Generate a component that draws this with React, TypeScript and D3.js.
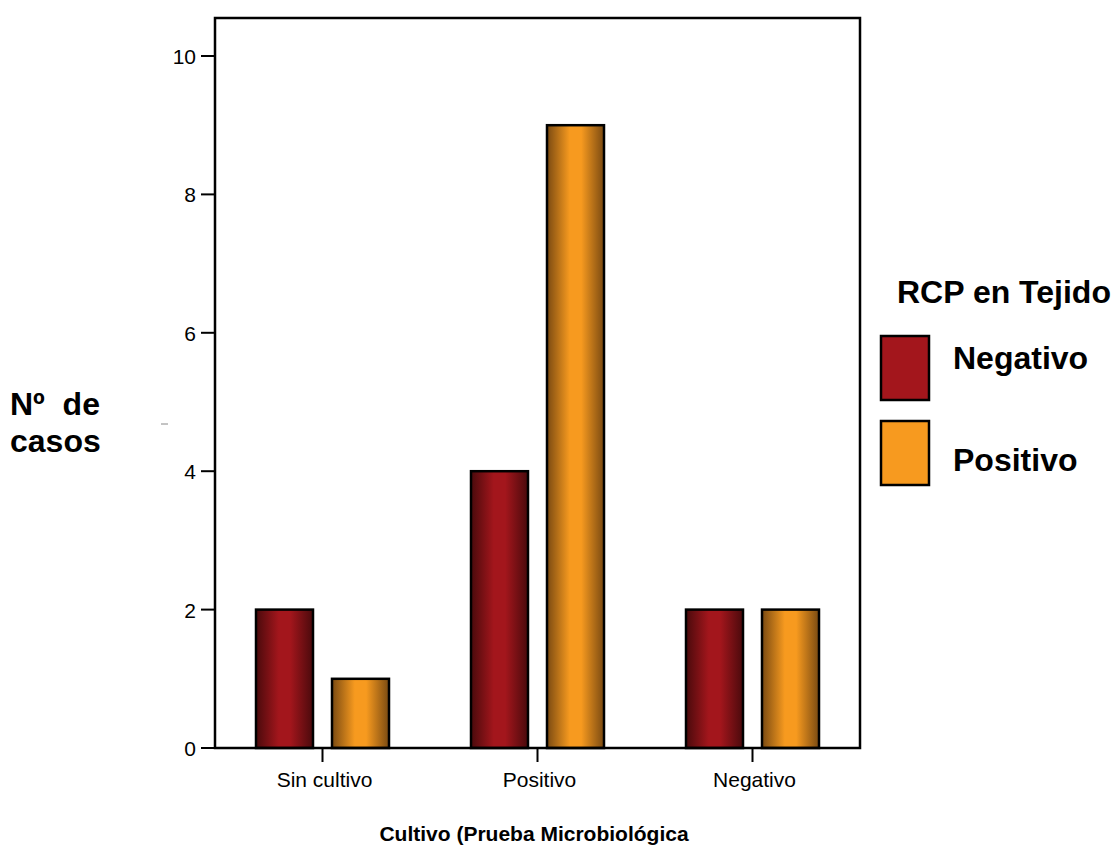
import React from "react";
import * as d3 from "d3";

const categories = ["Sin cultivo", "Positivo", "Negativo"];
const seriesNames = ["Negativo", "Positivo"];
const negativoValues = [2, 4, 2];
const positivoValues = [1, 9, 2];
const yTicks = [0, 2, 4, 6, 8, 10];

const W = 1115;
const H = 846;
const plot = { left: 215, right: 860, top: 18, bottom: 748 };
const font = "'Liberation Sans', Arial, sans-serif";

const palette = [
  { edge: "#4a0a0c", mid: "#a3161c", flat: "#a3161c" },
  { edge: "#7a4a12", mid: "#f79a1f", flat: "#f79a1f" },
];

export default function App() {
  const x = d3.scaleBand<string>().domain(categories).range([plot.left, plot.right]).padding(0);
  const y = d3.scaleLinear().domain([0, 10]).range([plot.bottom, 56]);
  const barW = 57;
  const gap = 19;
  const series = [negativoValues, positivoValues];

  return (
    <svg width={W} height={H} style={{ display: "block", position: "absolute", left: 0, top: 0 }}>
      <defs>
        {palette.map((p, i) => (
          <linearGradient key={i} id={`grad${i}`} x1="0" x2="1" y1="0" y2="0">
            <stop offset="0%" stopColor={p.edge} />
            <stop offset="40%" stopColor={p.mid} />
            <stop offset="60%" stopColor={p.mid} />
            <stop offset="100%" stopColor={p.edge} />
          </linearGradient>
        ))}
      </defs>
      <rect width={W} height={H} fill="#fff" />

      {/* bars */}
      {categories.map((c, ci) => {
        const cx = (x(c) ?? 0) + x.bandwidth() / 2;
        return series.map((vals, si) => {
          const x0 = si === 0 ? cx - gap / 2 - barW : cx + gap / 2;
          return (
            <rect
              key={`${c}-${si}`}
              x={x0}
              y={y(vals[ci])}
              width={barW}
              height={y(0) - y(vals[ci])}
              fill={`url(#grad${si})`}
              stroke="#000"
              strokeWidth={2.5}
            />
          );
        });
      })}

      {/* plot frame */}
      <rect
        x={plot.left}
        y={plot.top}
        width={plot.right - plot.left}
        height={plot.bottom - plot.top}
        fill="none"
        stroke="#000"
        strokeWidth={2.5}
      />

      {/* y axis ticks */}
      {yTicks.map((t) => (
        <g key={t}>
          <line x1={plot.left - 14} x2={plot.left} y1={y(t)} y2={y(t)} stroke="#000" strokeWidth={2} />
          <text x={196} y={y(t) + 8} textAnchor="end" fontFamily={font} fontSize={21} fill="#000">
            {t}
          </text>
        </g>
      ))}

      {/* x axis ticks */}
      {categories.map((c) => {
        const cx = (x(c) ?? 0) + x.bandwidth() / 2;
        return (
          <g key={c}>
            <line x1={cx} x2={cx} y1={plot.bottom} y2={plot.bottom + 14} stroke="#000" strokeWidth={2} />
            <text x={cx + 2} y={plot.bottom + 39} textAnchor="middle" fontFamily={font} fontSize={21} fill="#000">
              {c}
            </text>
          </g>
        );
      })}

      {/* axis titles */}
      <text x={10} y={415} fontFamily={font} fontSize={32} fontWeight="bold" fill="#000">
        {"Nº\u00a0\u00a0de"}
      </text>
      <text x={10} y={452} fontFamily={font} fontSize={32} fontWeight="bold" fill="#000">
        casos
      </text>
      <line x1={161} x2={168} y1={424} y2={424} stroke="#888" strokeWidth={1} />
      <text x={534} y={841} textAnchor="middle" fontFamily={font} fontSize={21} fontWeight="bold" fill="#000">
        Cultivo (Prueba Microbiológica
      </text>

      {/* legend */}
      <text x={897} y={303} fontFamily={font} fontSize={32} fontWeight="bold" fill="#000">
        RCP en Tejido
      </text>
      {seriesNames.map((n, i) => (
        <g key={n}>
          <rect x={881} y={336 + i * 85} width={48} height={64} fill={palette[i].flat} stroke="#000" strokeWidth={2.5} />
          <text x={953} y={369 + i * 102} fontFamily={font} fontSize={32} fontWeight="bold" fill="#000">
            {n}
          </text>
        </g>
      ))}
    </svg>
  );
}
